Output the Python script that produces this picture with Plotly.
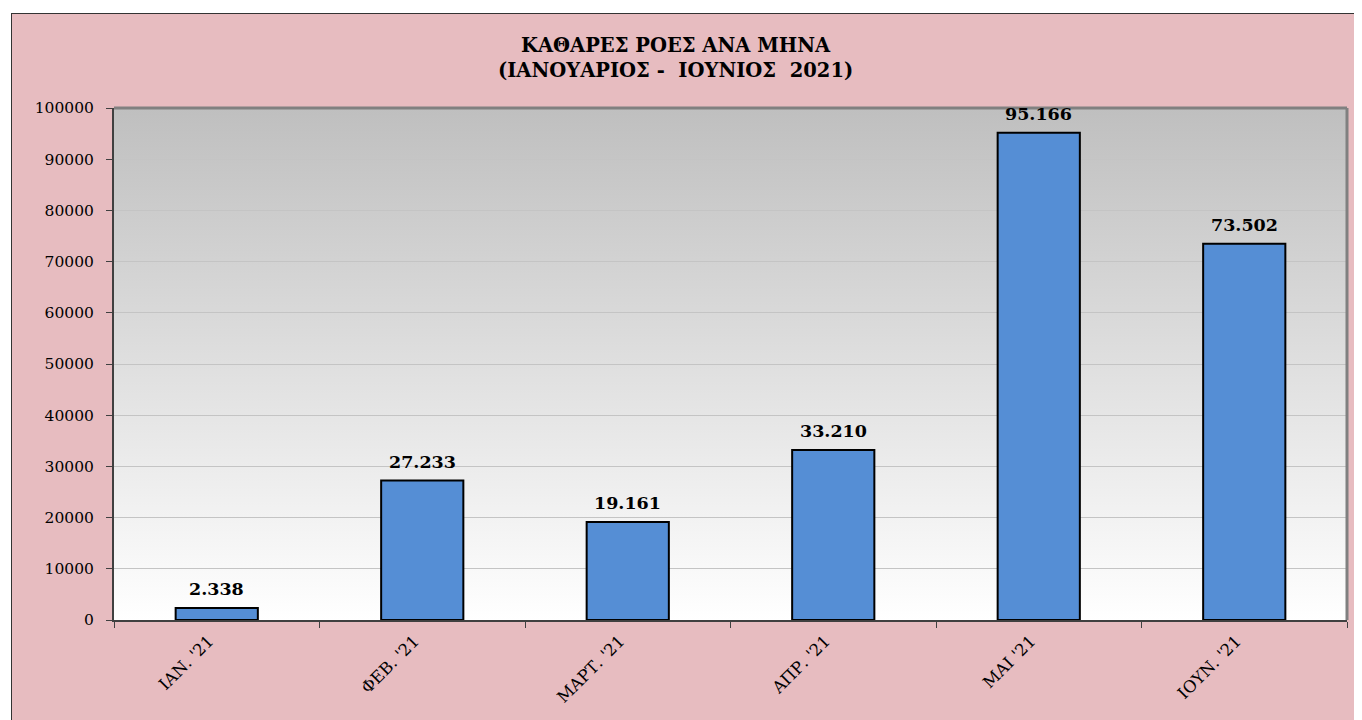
import base64
import plotly.graph_objects as go

# ---- data ----
months = ["ΙΑΝ. '21", "ΦΕΒ. '21", "ΜΑΡΤ. '21", "ΑΠΡ. '21", "ΜΑΙ '21", "ΙΟΥΝ. '21"]
net_flows = [2338, 27233, 19161, 33210, 95166, 73502]
y_ticks = [0, 10000, 20000, 30000, 40000, 50000, 60000, 70000, 80000, 90000, 100000]
title_lines = ["ΚΑΘΑΡΕΣ ΡΟΕΣ ΑΝΑ ΜΗΝΑ", "(ΙΑΝΟΥΑΡΙΟΣ -  ΙΟΥΝΙΟΣ  2021)"]

# the page body adds an 8px offset; figure sized to fill the remaining window
OFF = 8
W, H = 1362 - OFF, 720 - OFF
ML, MT = 114 - OFF, 108 - OFF
MR = W - (1347 - OFF)
MB = H - (620 - OFF)
PW, PH = W - ML - MR, H - MT - MB


def px_x(p):  # p in window pixels
    return (p - OFF - ML) / PW


def px_y(p):
    return (H - MB - (p - OFF)) / PH


SERIF = "DejaVu Serif"
PINK = "#e7bcc0"

fig = go.Figure()
fig.add_trace(go.Bar(
    x=months, y=net_flows,
    marker=dict(color="#558ed5", line=dict(color="#000000", width=2)),
    width=0.4,
    hoverinfo="x+y",
))

# value labels
annotations = []
for m, v in zip(months, net_flows):
    annotations.append(dict(
        x=m, y=v, xref="x", yref="y", text=f"{v:,}".replace(",", "."),
        showarrow=False, yanchor="bottom", yshift=7,
        font=dict(family=SERIF, size=17.5, color="#000000", weight="bold"),
    ))

annotations.append(dict(
    x=px_x(675), y=px_y(58), xref="paper", yref="paper",
    text="<b>" + title_lines[0] + "<br>" + title_lines[1] + "</b>",
    showarrow=False, xanchor="center", yanchor="middle",
    font=dict(family=SERIF, size=19.5, color="#000000"),
))

# gradient for plot area
svg = ('<svg xmlns="http://www.w3.org/2000/svg" width="100" height="100" preserveAspectRatio="none">'
       '<defs><linearGradient id="g" x1="0" y1="0" x2="0" y2="1">'
       '<stop offset="0" stop-color="#bfbfbf"/><stop offset="1" stop-color="#ffffff"/>'
       '</linearGradient></defs><rect width="100" height="100" fill="url(#g)"/></svg>')
src = "data:image/svg+xml;base64," + base64.b64encode(svg.encode()).decode()

shapes = [
    # white strips outside the chart border
    dict(type="rect", xref="paper", yref="paper", x0=px_x(0), x1=px_x(1400), y0=px_y(0), y1=px_y(13),
         fillcolor="#ffffff", line=dict(width=0), layer="below"),
    dict(type="rect", xref="paper", yref="paper", x0=px_x(0), x1=px_x(11), y0=px_y(0), y1=px_y(760),
         fillcolor="#ffffff", line=dict(width=0), layer="below"),
    # border lines of the chart area
    dict(type="line", xref="paper", yref="paper", x0=px_x(11), x1=px_x(1400), y0=px_y(13.5), y1=px_y(13.5),
         line=dict(color="#333333", width=1)),
    dict(type="line", xref="paper", yref="paper", x0=px_x(11.5), x1=px_x(11.5), y0=px_y(13), y1=px_y(760),
         line=dict(color="#333333", width=1)),
    # plot area top/right frame
    dict(type="line", xref="paper", yref="paper", x0=0, x1=1, y0=1, y1=1,
         line=dict(color="#808080", width=3)),
    dict(type="line", xref="paper", yref="paper", x0=1, x1=1, y0=0, y1=1,
         line=dict(color="#808080", width=3)),
]

fig.update_layout(
    width=W, height=H,
    margin=dict(l=ML, r=MR, t=MT, b=MB),
    paper_bgcolor=PINK,
    plot_bgcolor="rgba(0,0,0,0)",
    showlegend=False,
    annotations=annotations,
    shapes=shapes,
    images=[dict(source=src, xref="paper", yref="paper", x=0, y=1, sizex=1, sizey=1,
                 xanchor="left", yanchor="top", sizing="stretch", layer="below")],
    bargap=0.6,
)

fig.update_yaxes(
    range=[0, 100000], tickvals=y_ticks, tickformat="d",
    showgrid=True, gridcolor="#c4c4c4", gridwidth=1,
    showline=True, linecolor="#404040", linewidth=2,
    ticks="outside", ticklen=6, tickcolor="#404040", tickwidth=1,
    tickfont=dict(family=SERIF, size=15.5, color="#000000"),
    ticklabelstandoff=9, zeroline=False,
)
fig.update_xaxes(
    showgrid=False,
    showline=True, linecolor="#404040", linewidth=2,
    ticks="outside", tickson="boundaries", ticklen=6, tickcolor="#404040", tickwidth=1,
    tickangle=-45,
    tickfont=dict(family=SERIF, size=16.5, color="#000000"),
    ticklabelstandoff=3, ticklabelshift=-8,
)

fig.write_html("out.html")
